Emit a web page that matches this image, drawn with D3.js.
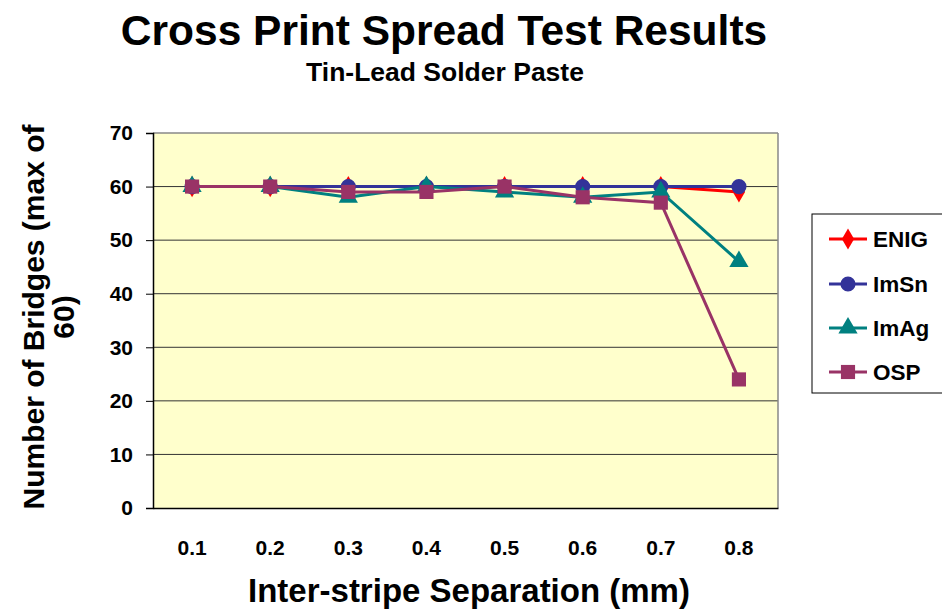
<!DOCTYPE html>
<html><head><meta charset="utf-8">
<script src="https://cdn.jsdelivr.net/npm/d3@7"></script>
<style>body{margin:0;background:#fff;}text{font-family:"Liberation Sans",Arial,sans-serif;font-weight:bold;}</style>
</head><body>
<svg id="c" width="942" height="612"></svg>
<script>
const categories = ["0.1","0.2","0.3","0.4","0.5","0.6","0.7","0.8"];
const enig = [60,60,60,60,60,60,60,59];
const imsn = [60,60,60,60,60,60,60,60];
const imag = [60,60,58,60,59,58,59,46];
const osp  = [60,60,59,59,60,58,57,24];
const yTicks = [0,10,20,30,40,50,60,70];
const seriesNames = ["ENIG","ImSn","ImAg","OSP"];

const series = [
  {name:seriesNames[0], values:enig, color:"#FF0000", shape:"diamond"},
  {name:seriesNames[1], values:imsn, color:"#333399", shape:"circle"},
  {name:seriesNames[2], values:imag, color:"#008080", shape:"triangle"},
  {name:seriesNames[3], values:osp,  color:"#993366", shape:"square"}
];

const svg = d3.select("#c");
const L=153, R=778, T=133, B=508;
const x = d3.scaleBand().domain(categories).range([L,R]);
const y = d3.scaleLinear().domain([0,70]).range([B,T]);
const FF = "Liberation Sans, Arial, sans-serif";

svg.append("rect").attr("x",L).attr("y",T).attr("width",R-L).attr("height",B-T).attr("fill","#FFFFCC");
svg.append("g").selectAll("line").data(yTicks.filter(d=>d>0&&d<70)).join("line")
  .attr("x1",L).attr("x2",R).attr("y1",d=>y(d)).attr("y2",d=>y(d))
  .attr("stroke","#333").attr("stroke-width",1);
svg.append("line").attr("x1",L).attr("x2",R).attr("y1",T).attr("y2",T).attr("stroke","#888").attr("stroke-width",1.5);
svg.append("line").attr("x1",R).attr("x2",R).attr("y1",T).attr("y2",B).attr("stroke","#888").attr("stroke-width",1.5);

const ya = svg.append("g").attr("transform",`translate(${L},0)`)
  .call(d3.axisLeft(y).tickValues(yTicks).tickSize(7).tickPadding(13));
ya.select(".domain").attr("stroke","#000").attr("stroke-width",1.5);
ya.selectAll(".tick line").attr("stroke","#000");
ya.selectAll("text").attr("font-size",21).attr("fill","#000").style("font-family",FF).style("font-weight","bold");

const xa = svg.append("g").attr("transform",`translate(0,${B})`)
  .call(d3.axisBottom(x).tickSize(0).tickPadding(32));
xa.select(".domain").attr("stroke","#000").attr("stroke-width",1.5);
xa.selectAll("text").attr("font-size",21).attr("fill","#000").style("font-family",FF).style("font-weight","bold");

const cx = d => x(d)+x.bandwidth()/2;
const symMap = {diamond:d3.symbolDiamond, circle:d3.symbolCircle, triangle:d3.symbolTriangle, square:d3.symbolSquare};
const symSize = {diamond:130, circle:180, triangle:160, square:200};
const line = d3.line().x((d,i)=>cx(categories[i])).y(d=>y(d));

series.forEach(s=>{
  const g = svg.append("g");
  g.append("path").attr("d",line(s.values)).attr("fill","none").attr("stroke",s.color).attr("stroke-width",3);
  g.selectAll("path.m").data(s.values).join("path").attr("class","m")
    .attr("d",d3.symbol().type(symMap[s.shape]).size(symSize[s.shape]))
    .attr("transform",(d,i)=>`translate(${cx(categories[i])},${y(d)})`)
    .attr("fill",s.color);
});

svg.append("text").attr("x",444).attr("y",45).attr("text-anchor","middle").attr("font-size",42.5).text("Cross Print Spread Test Results");
svg.append("text").attr("x",445).attr("y",81).attr("text-anchor","middle").attr("font-size",26.5).text("Tin-Lead Solder Paste");
svg.append("text").attr("x",469).attr("y",602).attr("text-anchor","middle").attr("font-size",33).text("Inter-stripe Separation (mm)");
const yt = svg.append("text").attr("transform","translate(0,317) rotate(-90)").attr("text-anchor","middle").attr("font-size",30);
yt.append("tspan").attr("x",0).attr("y",44).text("Number of Bridges (max of");
yt.append("tspan").attr("x",0).attr("y",74).text("60)");

const lg = svg.append("g");
lg.append("rect").attr("x",812).attr("y",214).attr("width",140).attr("height",179).attr("fill","#fff").attr("stroke","#000").attr("stroke-width",1);
const ly = [239,284,328,372];
series.forEach((s,i)=>{
  lg.append("line").attr("x1",829).attr("x2",867).attr("y1",ly[i]).attr("y2",ly[i]).attr("stroke",s.color).attr("stroke-width",3);
  lg.append("path").attr("d",d3.symbol().type(symMap[s.shape]).size(symSize[s.shape]))
    .attr("transform",`translate(848,${ly[i]})`).attr("fill",s.color);
  lg.append("text").attr("x",873).attr("y",ly[i]+8).attr("font-size",22.5).text(s.name);
});
</script>
</body></html>
